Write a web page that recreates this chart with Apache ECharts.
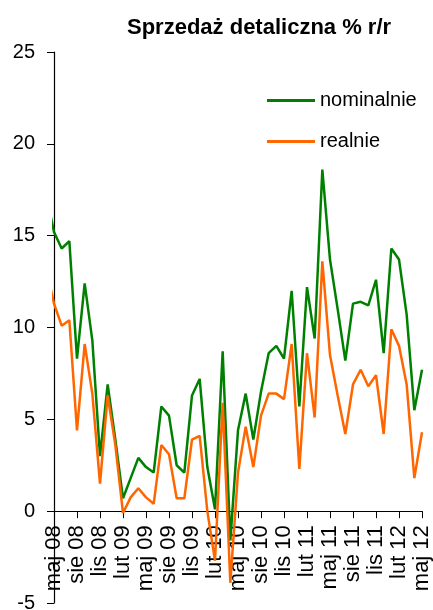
<!DOCTYPE html>
<html>
<head>
<meta charset="utf-8">
<script src="https://cdn.jsdelivr.net/npm/echarts@6/dist/echarts.min.js"></script>
<style>
  html, body { margin: 0; padding: 0; background: #fff; }
  #chart { width: 433px; height: 610px; }
</style>
</head>
<body>
<div id="chart"></div>
<script>
// months, the first one (kwi 08) sits just left of the plot and is clipped
var months = ['kwi 08', 'maj 08', 'cze 08', 'lip 08', 'sie 08', 'wrz 08', 'paz 08', 'lis 08', 'gru 08', 'sty 09',
  'lut 09', 'mar 09', 'kwi 09', 'maj 09', 'cze 09', 'lip 09', 'sie 09', 'wrz 09', 'paz 09', 'lis 09',
  'gru 09', 'sty 10', 'lut 10', 'mar 10', 'kwi 10', 'maj 10', 'cze 10', 'lip 10', 'sie 10', 'wrz 10',
  'paz 10', 'lis 10', 'gru 10', 'sty 11', 'lut 11', 'mar 11', 'kwi 11', 'maj 11', 'cze 11', 'lip 11',
  'sie 11', 'wrz 11', 'paz 11', 'lis 11', 'gru 11', 'sty 12', 'lut 12', 'mar 12', 'kwi 12', 'maj 12'];

var nominalnie = [17.2, 15.2, 14.3, 14.7, 8.3, 12.4, 9.3, 3.0, 6.9, 3.9,
  0.7, 1.8, 2.9, 2.4, 2.1, 5.7, 5.2, 2.5, 2.1, 6.3,
  7.2, 2.4, 0.1, 8.7, -1.6, 4.4, 6.4, 3.9, 6.5, 8.6,
  9.0, 8.3, 12.0, 5.7, 12.2, 9.4, 18.6, 13.7, 11.0, 8.2,
  11.3, 11.4, 11.2, 12.6, 8.6, 14.3, 13.7, 10.7, 5.5, 7.7];

var realnie = [13.2, 11.3, 10.1, 10.4, 4.4, 9.1, 6.4, 1.5, 6.3, 3.6,
  -0.1, 0.75, 1.25, 0.75, 0.4, 3.6, 3.1, 0.7, 0.7, 3.9,
  4.1, 0.0, -2.7, 5.9, -3.9, 2.1, 4.6, 2.4, 5.2, 6.4,
  6.4, 6.1, 9.1, 2.3, 8.6, 5.1, 13.6, 8.5, 6.3, 4.2,
  6.9, 7.7, 6.8, 7.4, 4.2, 9.9, 9.0, 6.9, 1.8, 4.3];

var yMin = -5, yMax = 25, yStep = 5;

var FONT = '"Liberation Sans", Arial, sans-serif';
var GRID_TOP = 52, GRID_BOTTOM = 7, H = 610;

function toPoints(vals) {
  var out = [];
  for (var i = 0; i < vals.length; i++) {
    out.push([i - 1, vals[i]]);
  }
  return out;
}

// x axis sits on the zero line, not on the bottom of the plot
var plotH = H - GRID_TOP - GRID_BOTTOM;
var zeroOffset = plotH * (0 - yMin) / (yMax - yMin);

var myChart = echarts.init(document.getElementById('chart'));

var option = {
  animation: false,
  backgroundColor: '#fff',
  title: {
    text: 'Sprzedaż detaliczna % r/r',
    left: 127,
    top: 17,
    padding: 0,
    textStyle: { fontFamily: FONT, fontSize: 22, fontWeight: 'bold', color: '#000' }
  },
  legend: {
    orient: 'vertical',
    left: 267,
    top: 90,
    padding: 0,
    itemWidth: 48,
    itemHeight: 3,
    itemGap: 20,
    icon: 'rect',
    textStyle: { fontFamily: FONT, fontSize: 20, color: '#000', lineHeight: 21 },
    data: ['nominalnie', 'realnie']
  },
  grid: { left: 54, right: 11, top: GRID_TOP, bottom: GRID_BOTTOM, outerBoundsMode: 'none' },
  xAxis: {
    type: 'value',
    min: 0,
    max: 48,
    interval: 3,
    offset: -zeroOffset,
    splitLine: { show: false },
    axisLine: { onZero: false, lineStyle: { color: '#000', width: 1.2 } },
    axisTick: { length: 7, lineStyle: { color: '#000' } },
    axisLabel: {
      rotate: 90,
      margin: 14,
      fontFamily: FONT,
      fontSize: 22,
      color: '#000',
      formatter: function (v) { return months[v + 1]; }
    }
  },
  yAxis: {
    type: 'value',
    min: yMin,
    max: yMax,
    interval: yStep,
    splitLine: { show: false },
    axisLine: { show: true, onZero: false, lineStyle: { color: '#000', width: 1.2 } },
    axisTick: { show: true, length: 7, lineStyle: { color: '#000' } },
    axisLabel: { margin: 19, fontFamily: FONT, fontSize: 20, color: '#000' }
  },
  series: [
    {
      name: 'nominalnie',
      type: 'line',
      symbol: 'none',
      data: toPoints(nominalnie),
      color: '#008000',
      lineStyle: { color: '#008000', width: 2.5 }
    },
    {
      name: 'realnie',
      type: 'line',
      symbol: 'none',
      data: toPoints(realnie),
      color: '#ff6600',
      lineStyle: { color: '#ff6600', width: 2.5 }
    }
  ]
};

myChart.setOption(option);
</script>
</body>
</html>
